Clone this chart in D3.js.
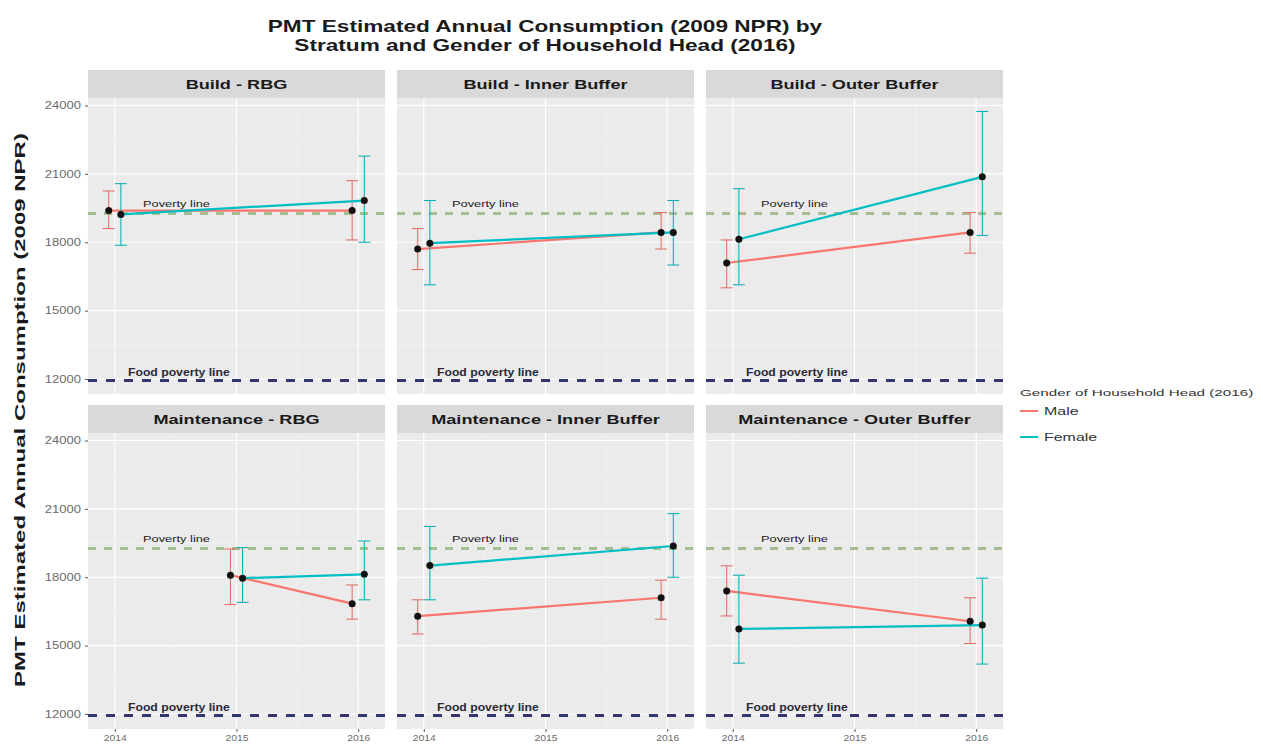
<!DOCTYPE html>
<html>
<head>
<meta charset="utf-8">
<script src="https://cdn.jsdelivr.net/npm/d3@7"></script>
<style>
  body { margin: 0; background: #fff; }
  svg { font-family: "Liberation Sans", Arial, sans-serif; }
</style>
</head>
<body>
<div id="chart"></div>
<script>
// facets in reading order
const facets = [
  "Build - RBG", "Build - Inner Buffer", "Build - Outer Buffer",
  "Maintenance - RBG", "Maintenance - Inner Buffer", "Maintenance - Outer Buffer",
];
const genders = ["Male", "Female"];
const yearTicks = [2014, 2015, 2016];
const yTicks = [12000, 15000, 18000, 21000, 24000];

// facet, year, mean, low, high
const maleData = [
  [0, 2014, 19390, 18600, 20250], [0, 2016, 19390, 18100, 20700],
  [1, 2014, 17700, 16800, 18600], [1, 2016, 18430, 17700, 19300],
  [2, 2014, 17090, 16000, 18100], [2, 2016, 18430, 17520, 19300],
  [3, 2015, 18090, 16800, 19240], [3, 2016, 16840, 16160, 17660],
  [4, 2014, 16290, 15510, 17010], [4, 2016, 17100, 16160, 17870],
  [5, 2014, 17400, 16300, 18500], [5, 2016, 16070, 15090, 17100],
];
const femaleData = [
  [0, 2014, 19220, 17870, 20570], [0, 2016, 19830, 18000, 21780],
  [1, 2014, 17960, 16130, 19830], [1, 2016, 18430, 17000, 19830],
  [2, 2014, 18130, 16130, 20350], [2, 2016, 20870, 18300, 23740],
  [3, 2015, 17960, 16900, 19300], [3, 2016, 18130, 17010, 19590],
  [4, 2014, 18510, 17010, 20230], [4, 2016, 19370, 18000, 20790],
  [5, 2014, 15730, 14230, 18090], [5, 2016, 15900, 14190, 17960],
];
const povertyLine = 19261;
const foodPovertyLine = 11929;

const width = 1263, height = 749;
const colLeft = [88, 397, 706];
const rowTop = [70, 405];
const pw = 297, stripH = 28, ph = 296;
const color = d3.scaleOrdinal().domain(genders).range(["#F8766D", "#00BFC4"]);
const dodge = { Male: -0.05, Female: 0.05 };

const x = d3.scaleLinear().domain([2013.78, 2016.22]).range([0, pw]);
const y = d3.scaleLinear().domain([11340, 24330]).range([ph, 0]);

// the source image is stretched sideways, so widen the glyphs to match
function stretch(sel, k) {
  sel.each(function () {
    const w = this.getComputedTextLength();
    d3.select(this).attr("textLength", w * k).attr("lengthAdjust", "spacingAndGlyphs");
  });
}

const svg = d3.select("#chart").append("svg")
  .attr("width", width).attr("height", height);

// title
const titleLines = ["PMT Estimated Annual Consumption (2009 NPR) by",
  "Stratum and Gender of Household Head (2016)"];
svg.selectAll(".title").data(titleLines).join("text")
  .attr("x", 545).attr("y", (d, k) => 32 + k * 19).attr("text-anchor", "middle")
  .style("font-size", "17px").style("font-weight", "bold").attr("fill", "#1a1a1a")
  .text(d => d)
  .call(stretch, 1.33);

// y title
svg.append("text")
  .attr("transform", "translate(25,410) rotate(-90)")
  .attr("text-anchor", "middle")
  .style("font-size", "15px").style("font-weight", "bold").attr("fill", "#1a1a1a")
  .text("PMT Estimated Annual Consumption (2009 NPR)")
  .call(stretch, 1.6);

const series = { Male: maleData, Female: femaleData };

facets.forEach((name, i) => {
  const col = i % 3, row = Math.floor(i / 3);
  const g = svg.append("g")
    .attr("transform", `translate(${colLeft[col]},${rowTop[row]})`);

  // strip
  g.append("rect").attr("width", pw).attr("height", stripH).attr("fill", "#D9D9D9");
  g.append("text").attr("x", pw / 2).attr("y", stripH / 2 + 5)
    .attr("text-anchor", "middle").style("font-size", "12.5px")
    .style("font-weight", "bold").attr("fill", "#1a1a1a").text(name)
    .call(stretch, 1.45);

  const p = g.append("g").attr("transform", `translate(0,${stripH})`);
  p.append("rect").attr("width", pw).attr("height", ph).attr("fill", "#EBEBEB");

  // grid
  const minorY = d3.range(10500, 25500, 3000);
  p.selectAll(".gmy").data(minorY.filter(v => v > y.domain()[0] && v < y.domain()[1]))
    .join("line").attr("x1", 0).attr("x2", pw)
    .attr("y1", d => y(d)).attr("y2", d => y(d))
    .attr("stroke", "#F5F5F5").attr("stroke-width", 0.6);
  p.selectAll(".gmx").data([2014.5, 2015.5])
    .join("line").attr("y1", 0).attr("y2", ph)
    .attr("x1", d => x(d)).attr("x2", d => x(d))
    .attr("stroke", "#F5F5F5").attr("stroke-width", 0.6);
  p.selectAll(".gy").data(yTicks).join("line")
    .attr("x1", 0).attr("x2", pw)
    .attr("y1", d => y(d)).attr("y2", d => y(d))
    .attr("stroke", "#fff").attr("stroke-width", 1.1);
  p.selectAll(".gx").data(yearTicks).join("line")
    .attr("y1", 0).attr("y2", ph)
    .attr("x1", d => x(d)).attr("x2", d => x(d))
    .attr("stroke", "#fff").attr("stroke-width", 1.1);

  // reference lines
  p.append("line").attr("x1", 0).attr("x2", pw)
    .attr("y1", y(povertyLine)).attr("y2", y(povertyLine))
    .attr("stroke", "#A4BE94").attr("stroke-width", 3)
    .attr("stroke-dasharray", "8,8");
  p.append("line").attr("x1", 0).attr("x2", pw)
    .attr("y1", y(foodPovertyLine)).attr("y2", y(foodPovertyLine))
    .attr("stroke", "#34346E").attr("stroke-width", 3)
    .attr("stroke-dasharray", "9,9");
  p.append("text").attr("x", 55).attr("y", y(povertyLine) - 7)
    .style("font-size", "9.5px").attr("fill", "#222").text("Poverty line")
    .call(stretch, 1.35);
  p.append("text").attr("x", 40).attr("y", y(foodPovertyLine) - 5)
    .style("font-size", "10px").style("font-weight", "bold")
    .attr("fill", "#2a2a3a").text("Food poverty line")
    .call(stretch, 1.22);

  genders.forEach(gd => {
    const rows = series[gd].filter(r => r[0] === i);
    const xs = r => x(r[1] + dodge[gd]);
    // error bars
    const eb = p.append("g").attr("stroke", d3.color(color(gd)).darker(0.3))
      .attr("stroke-width", 1);
    rows.forEach(r => {
      eb.append("line").attr("x1", xs(r)).attr("x2", xs(r))
        .attr("y1", y(r[3])).attr("y2", y(r[4]));
      eb.append("line").attr("x1", xs(r) - 6).attr("x2", xs(r) + 6)
        .attr("y1", y(r[3])).attr("y2", y(r[3]));
      eb.append("line").attr("x1", xs(r) - 6).attr("x2", xs(r) + 6)
        .attr("y1", y(r[4])).attr("y2", y(r[4]));
    });
    p.append("path").datum(rows)
      .attr("fill", "none").attr("stroke", color(gd)).attr("stroke-width", 2.2)
      .attr("d", d3.line().x(xs).y(r => y(r[2])));
  });
  genders.forEach(gd => {
    const rows = series[gd].filter(r => r[0] === i);
    p.selectAll(null).data(rows).join("circle")
      .attr("cx", r => x(r[1] + dodge[gd])).attr("cy", r => y(r[2]))
      .attr("r", 3.5).attr("fill", "#111");
  });

  // axes
  if (col === 0) {
    const ax = p.append("g").call(d3.axisLeft(y).tickValues(yTicks)
      .tickSize(3).tickPadding(4).tickFormat(d3.format("d")));
    ax.select(".domain").remove();
    ax.selectAll("line").attr("stroke", "#555");
    ax.selectAll("text").style("font-size", "10px").attr("fill", "#6b6b6b")
      .call(stretch, 1.3);
  }
  if (row === 1) {
    const ax = p.append("g").attr("transform", `translate(0,${ph})`)
      .call(d3.axisBottom(x).tickValues(yearTicks).tickSize(3)
        .tickFormat(d3.format("d")));
    ax.select(".domain").remove();
    ax.selectAll("line").attr("stroke", "#555");
    ax.selectAll("text").style("font-size", "9px").attr("fill", "#6b6b6b")
      .call(stretch, 1.15);
  }
});

// legend
const lg = svg.append("g").attr("transform", "translate(1020,396)");
lg.append("text").style("font-size", "9.5px").attr("fill", "#333")
  .text("Gender of Household Head (2016)")
  .call(stretch, 1.6);
genders.forEach((gd, k) => {
  const yy = 15 + k * 26;
  lg.append("line").attr("x1", 0).attr("x2", 18).attr("y1", yy).attr("y2", yy)
    .attr("stroke", color(gd)).attr("stroke-width", 2);
  lg.append("text").attr("x", 24).attr("y", yy + 4)
    .style("font-size", "11px").attr("fill", "#333").text(gd)
    .call(stretch, 1.45);
});
</script>
</body>
</html>
